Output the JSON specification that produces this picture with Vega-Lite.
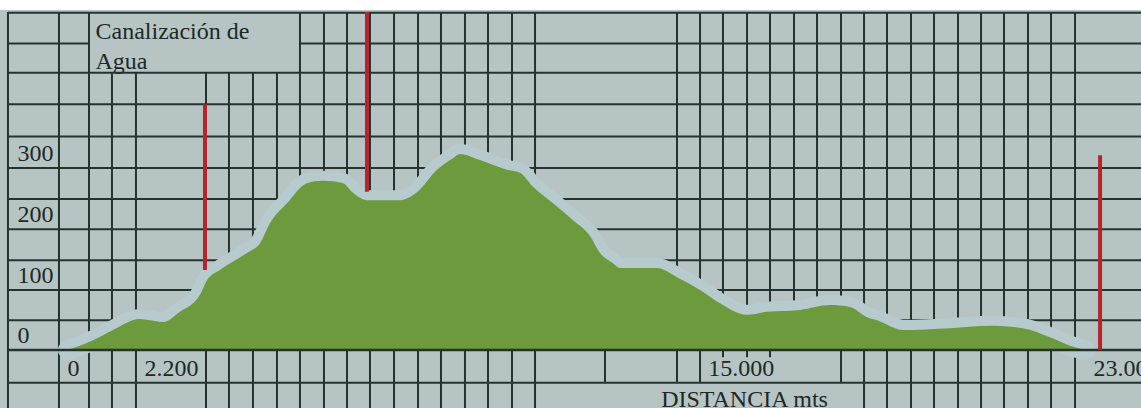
{
  "$schema": "https://vega.github.io/schema/vega-lite/v6.json",
  "width": 1141,
  "height": 398,
  "autosize": {"type": "none"},
  "padding": {"top": 10, "left": 0, "right": 0, "bottom": 0},
  "background": "#ffffff",
  "datasets": {
    "grid": [
      {"x": -1348, "x2": 24101, "y": 556, "y2": 556},
      {"x": -1348, "x2": 472, "y": 505, "y2": 505},
      {"x": 5211, "x2": 24101, "y": 505, "y2": 505},
      {"x": -1348, "x2": 24101, "y": 457, "y2": 457},
      {"x": -1348, "x2": 24101, "y": 405, "y2": 405},
      {"x": -1348, "x2": 24101, "y": 352, "y2": 352},
      {"x": -1348, "x2": 24101, "y": 300, "y2": 300},
      {"x": -1348, "x2": 24101, "y": 249, "y2": 249},
      {"x": -1348, "x2": 24101, "y": 199, "y2": 199},
      {"x": -1348, "x2": 24101, "y": 148, "y2": 148},
      {"x": -1348, "x2": 24101, "y": 99, "y2": 99},
      {"x": -1348, "x2": 24101, "y": 49, "y2": 49},
      {"x": -1348, "x2": 24101, "y": -54, "y2": -54},
      {"x": -1348, "x2": -1348, "y": 557, "y2": -96},
      {"x": -202, "x2": -202, "y": 557, "y2": -96},
      {"x": 472, "x2": 472, "y": 557, "y2": -96},
      {"x": 988, "x2": 988, "y": 457, "y2": -96},
      {"x": 1527, "x2": 1527, "y": 457, "y2": -96},
      {"x": 3100, "x2": 3100, "y": 457, "y2": -96},
      {"x": 3616, "x2": 3616, "y": 457, "y2": -96},
      {"x": 4155, "x2": 4155, "y": 457, "y2": -96},
      {"x": 4694, "x2": 4694, "y": 457, "y2": -96},
      {"x": 5211, "x2": 5211, "y": 557, "y2": -96},
      {"x": 5750, "x2": 5750, "y": 557, "y2": -96},
      {"x": 6267, "x2": 6267, "y": 557, "y2": -96},
      {"x": 6783, "x2": 6783, "y": 557, "y2": -96},
      {"x": 7323, "x2": 7323, "y": 557, "y2": -96},
      {"x": 7862, "x2": 7862, "y": 557, "y2": -96},
      {"x": 8378, "x2": 8378, "y": 557, "y2": -96},
      {"x": 8917, "x2": 8917, "y": 557, "y2": -96},
      {"x": 9434, "x2": 9434, "y": 557, "y2": -96},
      {"x": 9973, "x2": 9973, "y": 557, "y2": -96},
      {"x": 10490, "x2": 10490, "y": 557, "y2": -96},
      {"x": 12062, "x2": 12062, "y": 0, "y2": -54},
      {"x": 13679, "x2": 13679, "y": 557, "y2": -54},
      {"x": 14196, "x2": 14196, "y": 557, "y2": -54},
      {"x": 14712, "x2": 14712, "y": 557, "y2": -12},
      {"x": 15252, "x2": 15252, "y": 557, "y2": -12},
      {"x": 15768, "x2": 15768, "y": 557, "y2": -12},
      {"x": 16307, "x2": 16307, "y": 557, "y2": 0},
      {"x": 16824, "x2": 16824, "y": 557, "y2": 0},
      {"x": 17363, "x2": 17363, "y": 557, "y2": -54},
      {"x": 17880, "x2": 17880, "y": 557, "y2": -96},
      {"x": 18396, "x2": 18396, "y": 557, "y2": -96},
      {"x": 18935, "x2": 18935, "y": 557, "y2": -96},
      {"x": 19452, "x2": 19452, "y": 557, "y2": -96},
      {"x": 19991, "x2": 19991, "y": 557, "y2": -96},
      {"x": 20508, "x2": 20508, "y": 557, "y2": -96},
      {"x": 21024, "x2": 21024, "y": 557, "y2": -96},
      {"x": 21563, "x2": 21563, "y": 557, "y2": -96},
      {"x": 22080, "x2": 22080, "y": 557, "y2": -96},
      {"x": 22619, "x2": 22619, "y": 557, "y2": -96}
    ],
    "base": [
      {"x": -1348, "x2": 24101, "y": 0, "y2": 0}
    ],
    "terrain": [
      {"x": 0, "y": 0},
      {"x": 562, "y": 16},
      {"x": 1011, "y": 33},
      {"x": 1617, "y": 51},
      {"x": 1842, "y": 49},
      {"x": 2134, "y": 46},
      {"x": 2516, "y": 63},
      {"x": 2965, "y": 91},
      {"x": 3122, "y": 115},
      {"x": 3414, "y": 132},
      {"x": 4021, "y": 160},
      {"x": 4313, "y": 176},
      {"x": 4537, "y": 209},
      {"x": 4919, "y": 242},
      {"x": 5368, "y": 275},
      {"x": 5728, "y": 279},
      {"x": 6177, "y": 275},
      {"x": 6402, "y": 259},
      {"x": 6716, "y": 247},
      {"x": 7457, "y": 247},
      {"x": 7839, "y": 260},
      {"x": 8288, "y": 297},
      {"x": 8648, "y": 316},
      {"x": 8805, "y": 323},
      {"x": 9254, "y": 313},
      {"x": 9861, "y": 297},
      {"x": 10153, "y": 292},
      {"x": 10445, "y": 269},
      {"x": 10894, "y": 242},
      {"x": 11343, "y": 214},
      {"x": 11725, "y": 188},
      {"x": 11950, "y": 160},
      {"x": 12242, "y": 143},
      {"x": 12399, "y": 135},
      {"x": 13230, "y": 135},
      {"x": 13679, "y": 120},
      {"x": 14196, "y": 99},
      {"x": 14645, "y": 77},
      {"x": 15252, "y": 58},
      {"x": 15701, "y": 63},
      {"x": 16442, "y": 66},
      {"x": 17116, "y": 74},
      {"x": 17565, "y": 71},
      {"x": 17947, "y": 54},
      {"x": 18172, "y": 49},
      {"x": 18756, "y": 33},
      {"x": 19811, "y": 36},
      {"x": 20710, "y": 40},
      {"x": 21451, "y": 36},
      {"x": 22058, "y": 21},
      {"x": 22507, "y": 7},
      {"x": 22844, "y": 0}
    ],
    "red": [
      {"x": 3077, "y": 405, "y2": 132},
      {"x": 6716, "y": 557, "y2": 261},
      {"x": 23181, "y": 321, "y2": 0}
    ]
  },
  "encoding": {
    "x": {
      "field": "x",
      "type": "quantitative",
      "scale": {"domain": [-1527, 24101], "nice": false, "zero": false},
      "axis": {
        "orient": "bottom",
        "values": [0, 2200, 15000, 23000],
        "labelExpr": "replace(format(datum.value, ','), ',', '.')",
        "domain": false,
        "ticks": false,
        "tickSize": 0,
        "grid": false,
        "labelPadding": -33,
        "labelBaseline": "alphabetic",
        "labelAlign": {"condition": {"test": "datum.value === 23000", "value": "left"}, "value": "center"},
        "labelOffset": {"condition": {"test": "datum.value === 23000", "value": 1}, "value": 5},
        "labelFlush": false,
        "labelOverlap": false,
        "labelBound": false,
        "labelFont": "Liberation Serif",
        "labelFontSize": 24,
        "labelColor": "#1e2826",
        "title": "DISTANCIA mts",
        "titleFont": "Liberation Serif",
        "titleFontSize": 24,
        "titleFontWeight": "normal",
        "titleColor": "#1e2826",
        "titleX": 744,
        "titleY": -2,
        "titleAlign": "center",
        "titleBaseline": "alphabetic"
      }
    },
    "y": {
      "field": "y",
      "type": "quantitative",
      "scale": {"domain": [-95.6, 560.4], "nice": false, "zero": false},
      "axis": {
        "orient": "left",
        "values": [0, 100, 200, 300],
        "domain": false,
        "ticks": false,
        "tickSize": 0,
        "grid": false,
        "labelAlign": "left",
        "labelBaseline": "alphabetic",
        "labelPadding": -17,
        "labelOffset": -7,
        "labelFont": "Liberation Serif",
        "labelFontSize": 24,
        "labelColor": "#1e2826",
        "labelOverlap": false,
        "labelBound": false,
        "labelFlush": false,
        "title": ["Canalización de", "Agua"],
        "titleAngle": 0,
        "titleX": 95,
        "titleY": 28,
        "titleAlign": "left",
        "titleBaseline": "alphabetic",
        "titleFont": "Liberation Serif",
        "titleFontSize": 24,
        "titleFontWeight": "normal",
        "titleLineHeight": 30,
        "titleColor": "#1e2826"
      }
    }
  },
  "layer": [
    {
      "data": {"name": "grid"},
      "mark": {"type": "rule", "stroke": "#25332f", "strokeWidth": 2},
      "encoding": {
        "x2": {"field": "x2"},
        "y2": {"field": "y2"}
      }
    },
    {
      "data": {"name": "terrain"},
      "mark": {"type": "line", "stroke": "#b7cacd", "strokeWidth": 20, "strokeCap": "round", "strokeJoin": "round", "interpolate": "monotone"},
      "encoding": {}
    },
    {
      "data": {"name": "terrain"},
      "mark": {"type": "area", "fill": "#6d9a3c", "opacity": 1, "interpolate": "monotone"},
      "encoding": {
        "y2": {"datum": 0}
      }
    },
    {
      "data": {"name": "base"},
      "mark": {"type": "rule", "stroke": "#25332f", "strokeWidth": 2.5},
      "encoding": {
        "x2": {"field": "x2"},
        "y2": {"field": "y2"}
      }
    },
    {
      "data": {"name": "red"},
      "mark": {"type": "rule", "stroke": "#b8242c", "strokeWidth": 4},
      "encoding": {
        "y2": {"field": "y2"}
      }
    }
  ],
  "config": {
    "view": {"stroke": null, "fill": "#b6c5c4"}
  }
}
